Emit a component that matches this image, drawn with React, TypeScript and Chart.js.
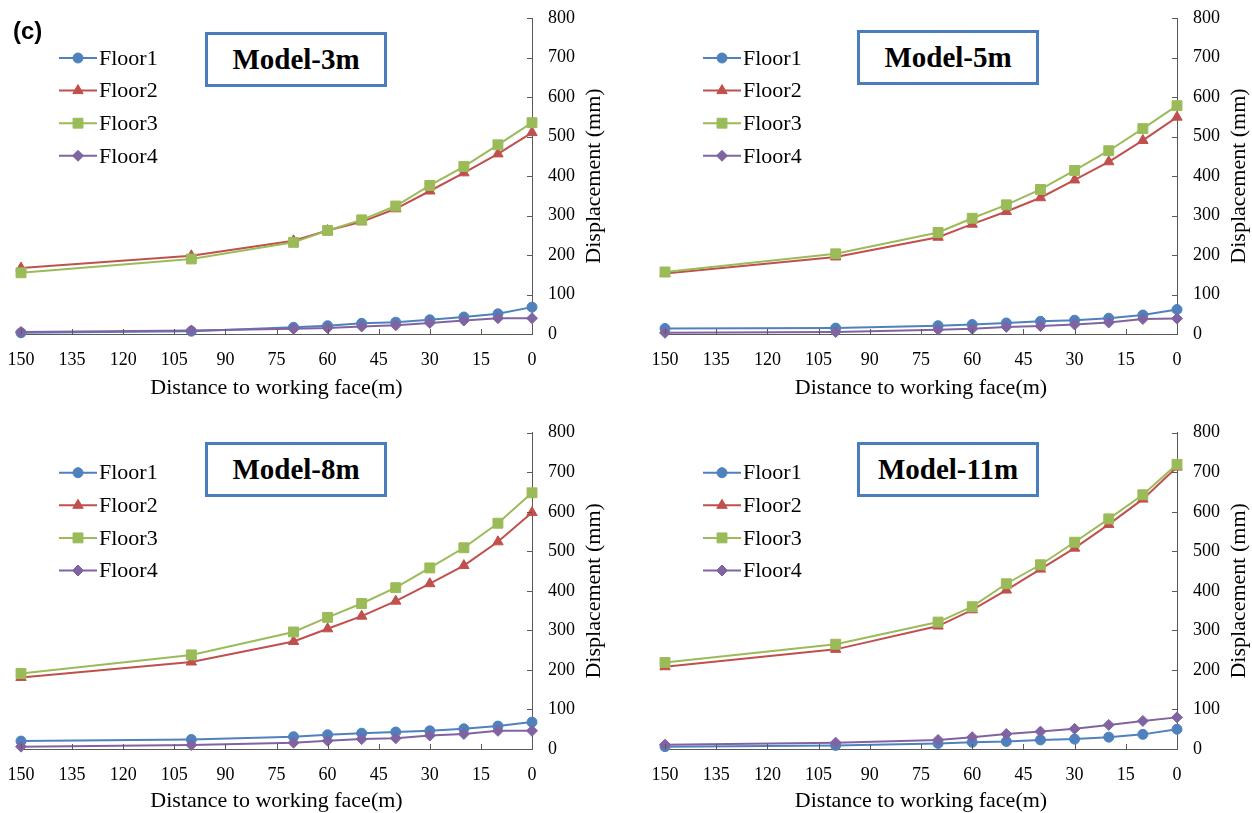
import React, { useEffect, useRef } from 'react';
import { Chart, registerables } from 'chart.js';

Chart.register(...registerables);

// ---------- data ----------
const distance = [150, 100, 70, 60, 50, 40, 30, 20, 10, 0];

const m3Floor1 = [3, 7, 17, 21, 27, 30, 36, 43, 51, 68];
const m3Floor2 = [167, 198, 236, 262, 284, 317, 362, 408, 456, 510];
const m3Floor3 = [155, 190, 232, 262, 289, 324, 376, 424, 479, 535];
const m3Floor4 = [5, 9, 13, 15, 19, 22, 28, 34, 40, 40];

const m5Floor1 = [14, 15, 21, 24, 28, 32, 35, 40, 48, 62];
const m5Floor2 = [153, 195, 245, 278, 310, 345, 390, 436, 490, 549];
const m5Floor3 = [157, 203, 257, 293, 327, 366, 414, 464, 520, 578];
const m5Floor4 = [3, 5, 11, 13, 18, 20, 24, 29, 38, 39];

const m8Floor1 = [20, 24, 31, 36, 40, 43, 46, 51, 58, 68];
const m8Floor2 = [181, 220, 272, 304, 336, 374, 418, 464, 524, 598];
const m8Floor3 = [191, 238, 296, 333, 368, 408, 458, 509, 571, 648];
const m8Floor4 = [6, 10, 16, 21, 25, 27, 34, 38, 46, 46];

const m11Floor1 = [6, 9, 14, 17, 19, 23, 25, 30, 37, 50];
const m11Floor2 = [208, 252, 311, 352, 402, 455, 508, 568, 632, 713];
const m11Floor3 = [219, 265, 321, 360, 418, 466, 523, 582, 643, 720];
const m11Floor4 = [11, 16, 23, 30, 38, 44, 51, 61, 71, 80];

const floorNames = ['Floor1', 'Floor2', 'Floor3', 'Floor4'];
const modelTitles = ['Model-3m', 'Model-5m', 'Model-8m', 'Model-11m'];
const xAxisTitle = 'Distance to working face(m)';
const yAxisTitle = 'Displacement (mm)';
const panelLabel = '(c)';
const xMin = 0;
const xMax = 150;
const xStep = 15;
const yMin = 0;
const yMax = 800;
const yStep = 100;

// ---------- styles ----------
const floorColors = ['#4F81BD', '#C0504D', '#9BBB59', '#8064A2'];
const floorMarkers = ['circle', 'triangle', 'rect', 'rectRot'];
const markerRadius = [5, 6, 7, 5.5];
const axisColor = '#595959';
const serif = '"Liberation Serif", "Times New Roman", serif';

// ---------- layout (page coordinates) ----------
const CW = 626;
const CH = 430;
const panels = [
  { title: modelTitles[0], series: [m3Floor1, m3Floor2, m3Floor3, m3Floor4], cx: 0, cy: 0,
    area: { l: 21, r: 532, t: 18, b: 334 }, xTitleY: 387, box: { l: 205, t: 32, w: 182, h: 55 } },
  { title: modelTitles[1], series: [m5Floor1, m5Floor2, m5Floor3, m5Floor4], cx: 626, cy: 0,
    area: { l: 665, r: 1177, t: 18, b: 334 }, xTitleY: 387, box: { l: 857, t: 30, w: 182, h: 55 } },
  { title: modelTitles[2], series: [m8Floor1, m8Floor2, m8Floor3, m8Floor4], cx: 0, cy: 406,
    area: { l: 21, r: 532, t: 432.7, b: 749 }, xTitleY: 800, box: { l: 205, t: 442, w: 182, h: 55 } },
  { title: modelTitles[3], series: [m11Floor1, m11Floor2, m11Floor3, m11Floor4], cx: 626, cy: 406,
    area: { l: 665, r: 1177, t: 432.7, b: 749 }, xTitleY: 800, box: { l: 857, t: 442, w: 182, h: 55 } },
];

function drawMarker(ctx: CanvasRenderingContext2D, style: string, r: number, x: number, y: number) {
  ctx.beginPath();
  if (style === 'circle') {
    ctx.arc(x, y, r, 0, Math.PI * 2);
  } else if (style === 'triangle') {
    let rad = 0;
    ctx.moveTo(x + Math.sin(rad) * r, y - Math.cos(rad) * r);
    rad += (2 * Math.PI) / 3;
    ctx.lineTo(x + Math.sin(rad) * r, y - Math.cos(rad) * r);
    rad += (2 * Math.PI) / 3;
    ctx.lineTo(x + Math.sin(rad) * r, y - Math.cos(rad) * r);
    ctx.closePath();
  } else if (style === 'rect') {
    const s = Math.SQRT1_2 * r;
    ctx.rect(x - s, y - s, 2 * s, 2 * s);
  } else {
    ctx.moveTo(x - r, y);
    ctx.lineTo(x, y - r);
    ctx.lineTo(x + r, y);
    ctx.lineTo(x, y + r);
    ctx.closePath();
  }
  ctx.fill();
  ctx.stroke();
}

const decorPlugin = {
  id: 'decor',
  afterDraw(chart: any) {
    const ctx: CanvasRenderingContext2D = chart.ctx;
    const a = chart.chartArea;
    const xs = chart.scales.x;
    const ys = chart.scales.y;
    ctx.save();
    // inward tick marks
    ctx.strokeStyle = axisColor;
    ctx.lineWidth = 1;
    ctx.beginPath();
    xs.ticks.forEach((t: any) => {
      const px = Math.round(xs.getPixelForValue(t.value)) + 0.5;
      ctx.moveTo(px, a.bottom);
      ctx.lineTo(px, a.bottom - 5);
    });
    ys.ticks.forEach((t: any) => {
      const py = Math.round(ys.getPixelForValue(t.value)) + 0.5;
      ctx.moveTo(a.right, py);
      ctx.lineTo(a.right - 5, py);
    });
    ctx.stroke();

    // y-axis title (reads bottom to top)
    ctx.fillStyle = '#000';
    ctx.font = `22px ${serif}`;
    ctx.textAlign = 'center';
    ctx.textBaseline = 'middle';
    ctx.translate(a.right + 62, (a.top + a.bottom) / 2);
    ctx.rotate(-Math.PI / 2);
    ctx.fillText(yAxisTitle, 0, 0);
    ctx.restore();

    // legend
    ctx.save();
    chart.data.datasets.forEach((ds: any, i: number) => {
      const y = a.top + 40 + i * 32.6;
      const x0 = a.left + 38;
      const x1 = a.left + 76;
      ctx.strokeStyle = floorColors[i];
      ctx.fillStyle = floorColors[i];
      ctx.lineWidth = 2;
      ctx.beginPath();
      ctx.moveTo(x0, y);
      ctx.lineTo(x1, y);
      ctx.stroke();
      ctx.lineWidth = 1;
      drawMarker(ctx, floorMarkers[i], markerRadius[i], (x0 + x1) / 2, y);
      ctx.fillStyle = '#000';
      ctx.font = `22px ${serif}`;
      ctx.textAlign = 'left';
      ctx.textBaseline = 'middle';
      ctx.fillText(ds.label, x1 + 2, y + 1);
    });
    ctx.restore();
  },
};

function Panel({ p }: { p: any }) {
  const ref = useRef<HTMLCanvasElement>(null);
  useEffect(() => {
    if (!ref.current) return;
    const area = { l: p.area.l - p.cx, r: p.area.r - p.cx, t: p.area.t - p.cy, b: p.area.b - p.cy };
    const yWidth = 70;
    const xHeight = p.xTitleY - p.cy + 13.2 + 4 - area.b;
    const chart = new Chart(ref.current, {
      type: 'line',
      data: {
        datasets: floorNames.map((name, i) => ({
          label: name,
          data: distance.map((d, k) => ({ x: d, y: p.series[i][k] })),
          borderColor: floorColors[i],
          backgroundColor: floorColors[i],
          pointStyle: floorMarkers[i] as any,
          pointRadius: markerRadius[i],
          pointBorderWidth: 1,
          borderWidth: 2,
          tension: 0,
          order: 3 - i,
          clip: false as any,
        })),
      },
      options: {
        responsive: false,
        animation: false,
        devicePixelRatio: 1,
        layout: {
          autoPadding: false,
          padding: { left: area.l, top: area.t, right: CW - area.r - yWidth, bottom: CH - area.b - xHeight },
        },
        plugins: { legend: { display: false }, tooltip: { enabled: false }, title: { display: false } },
        scales: {
          x: {
            type: 'linear',
            position: 'bottom',
            min: xMin,
            max: xMax,
            reverse: true,
            afterFit: (s: any) => { s.height = xHeight; },
            grid: { display: true, drawOnChartArea: false, drawTicks: true, tickLength: 15, tickColor: 'rgba(0,0,0,0)' },
            border: { display: true, color: axisColor, width: 1 },
            ticks: { stepSize: xStep, padding: 0, color: '#000', font: { family: serif, size: 18 }, maxRotation: 0, autoSkip: false },
            title: { display: true, text: xAxisTitle, color: '#000', font: { family: serif, size: 22 }, padding: { top: 0, bottom: 3 } },
          },
          y: {
            type: 'linear',
            position: 'right',
            min: yMin,
            max: yMax,
            afterFit: (s: any) => { s.width = yWidth; },
            grid: { display: true, drawOnChartArea: false, drawTicks: true, tickLength: 16, tickColor: 'rgba(0,0,0,0)' },
            border: { display: true, color: axisColor, width: 1 },
            ticks: { stepSize: yStep, padding: 0, color: '#000', font: { family: serif, size: 18 } },
          },
        },
      } as any,
      plugins: [decorPlugin],
    });
    return () => chart.destroy();
  }, [p]);
  return (
    <canvas
      ref={ref}
      width={CW}
      height={CH}
      style={{ position: 'absolute', left: p.cx, top: p.cy, width: CW, height: CH }}
    />
  );
}

export default function App() {
  return (
    <div style={{ position: 'fixed', left: 0, top: 0, width: 1252, height: 813, overflow: 'hidden', background: '#fff' }}>
      {panels.map((p, i) => (
        <Panel key={i} p={p} />
      ))}
      {panels.map((p, i) => (
        <div
          key={'b' + i}
          style={{
            position: 'absolute',
            left: p.box.l,
            top: p.box.t,
            width: p.box.w,
            height: p.box.h,
            boxSizing: 'border-box',
            border: '3px solid #4A7EBB',
            background: '#fff',
            display: 'flex',
            alignItems: 'center',
            justifyContent: 'center',
            fontFamily: serif,
            fontWeight: 'bold',
            fontSize: 29,
            color: '#000',
          }}
        >
          {p.title}
        </div>
      ))}
      <div
        style={{
          position: 'absolute',
          left: 13,
          top: 19,
          fontFamily: '"Liberation Sans", Arial, sans-serif',
          fontWeight: 'bold',
          fontSize: 24,
          lineHeight: '24px',
          color: '#000',
        }}
      >
        {panelLabel}
      </div>
    </div>
  );
}
